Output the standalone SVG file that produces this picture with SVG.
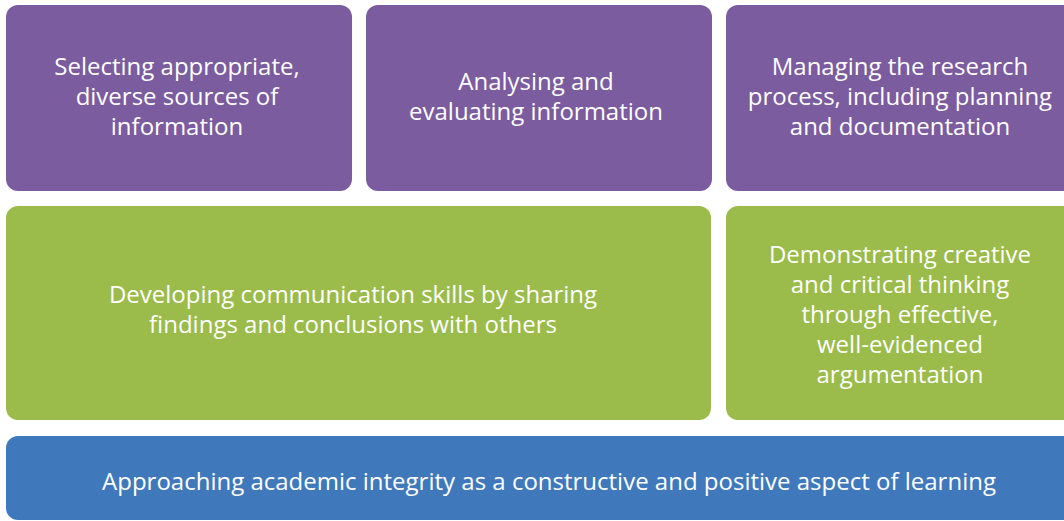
<svg xmlns="http://www.w3.org/2000/svg" width="1064" height="521" viewBox="0 0 1064 521">
<style>
.p{fill:#7a5c9f}
.g{fill:#9bbb4b}
.b{fill:#3f79bb}
text{font-family:"Open Sans","Noto Sans",sans-serif;font-size:24px;fill:#ffffff;text-anchor:middle}
</style>
<rect width="1064" height="521" fill="#ffffff"/>
<g id="n1"><rect class="p" x="6" y="5" width="346" height="186" rx="12"/>
<text x="177" y="75">Selecting appropriate,</text><text x="177" y="105">diverse sources of</text><text x="177" y="135">information</text></g>
<g id="n2"><rect class="p" x="366" y="5" width="346" height="186" rx="12"/>
<text x="536" y="90">Analysing and</text><text x="536" y="120">evaluating information</text></g>
<g id="n3"><rect class="p" x="726" y="5" width="352" height="186" rx="12"/>
<text x="900" y="75">Managing the research</text><text x="900" y="105">process, including planning</text><text x="900" y="135">and documentation</text></g>
<g id="n4"><rect class="g" x="6" y="206" width="705" height="214" rx="12"/>
<text x="353" y="303">Developing communication skills by sharing</text><text x="353" y="333">findings and conclusions with others</text></g>
<g id="n5"><rect class="g" x="726" y="206" width="352" height="214" rx="12"/>
<text x="900" y="263">Demonstrating creative</text><text x="900" y="293">and critical thinking</text><text x="900" y="323">through effective,</text><text x="900" y="353">well-evidenced</text><text x="900" y="383">argumentation</text></g>
<g id="n6"><rect class="b" x="6" y="436" width="1092" height="84" rx="12"/>
<text x="549" y="490">Approaching academic integrity as a constructive and positive aspect of learning</text></g>
<g id="connectors"></g>
</svg>
